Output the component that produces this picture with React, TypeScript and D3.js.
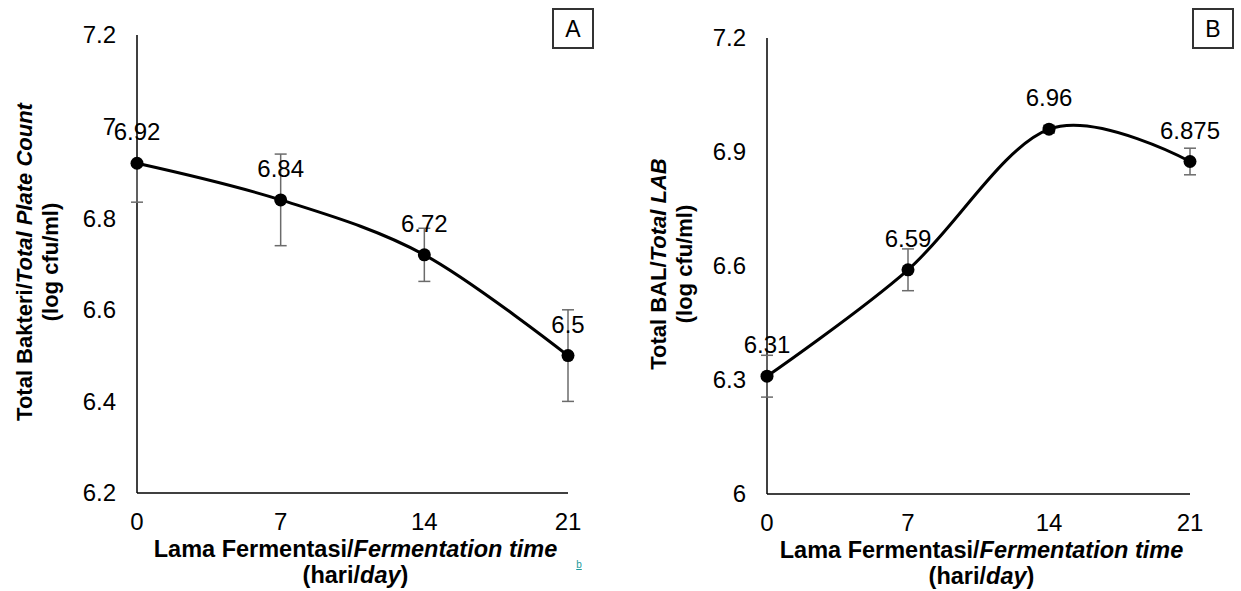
import React from "react";
import * as d3 from "d3";

const days = [0, 7, 14, 21];
const tpcValues = [6.92, 6.84, 6.72, 6.5];
const tpcLabels = ["6.92", "6.84", "6.72", "6.5"];
const tpcErrUp = [0, 0.1, 0.058, 0.1];
const tpcErrDown = [0.085, 0.1, 0.058, 0.1];
const tpcTicks = [6.2, 6.4, 6.6, 6.8, 7, 7.2];

const labValues = [6.31, 6.59, 6.96, 6.875];
const labLabels = ["6.31", "6.59", "6.96", "6.875"];
const labErrUp = [0.055, 0.055, 0.01, 0.035];
const labErrDown = [0.055, 0.055, 0.01, 0.035];
const labTicks = [6, 6.3, 6.6, 6.9, 7.2];

const FONT = "'Liberation Sans', Arial, sans-serif";

type PanelProps = {
  x0: number; x1: number; yTop: number; yBot: number;
  domain: [number, number]; ticks: number[];
  values: number[]; labels: string[]; errUp: number[]; errDown: number[];
  yTitle1: React.ReactNode; yTitleX: number;
  letter: string; boxX: number; chartRight: number;
};

function Panel(p: PanelProps) {
  const x = d3.scaleLinear().domain([0, 21]).range([p.x0, p.x1]);
  const y = d3.scaleLinear().domain(p.domain).range([p.yBot, p.yTop]);
  const pts = days.map((d, i) => [x(d), y(p.values[i])] as [number, number]);
  const line = d3.line().curve(d3.curveCardinal.tension(0))(pts) || "";
  const fs = 24;
  const yMid = (p.yTop + p.yBot) / 2 - 2;
  const xMid = (p.x0 + p.x1) / 2;
  return (
    <g>
      <line x1={p.x0} x2={p.x0} y1={p.yTop} y2={p.yBot} stroke="#000" strokeWidth={1.5} />
      <line x1={p.x0} x2={p.x1} y1={p.yBot} y2={p.yBot} stroke="#000" strokeWidth={1.5} />
      {p.ticks.map((t) => (
        <text key={t} x={p.x0 - 21} y={y(t)} dy="0.35em" textAnchor="end" fontSize={fs} fontFamily={FONT}>
          {d3.format("~g")(t)}
        </text>
      ))}
      {days.map((d) => (
        <text key={d} x={x(d)} y={p.yBot + 37} textAnchor="middle" fontSize={fs} fontFamily={FONT}>
          {d}
        </text>
      ))}
      {days.map((d, i) => {
        const cx = x(d);
        const a = y(p.values[i] + p.errUp[i]);
        const b = y(p.values[i] - p.errDown[i]);
        return (
          <g key={"e" + d} stroke="#6b6b6b" strokeWidth={1.5}>
            <line x1={cx} x2={cx} y1={a} y2={b} />
            {p.errUp[i] > 0 && <line x1={cx - 6} x2={cx + 6} y1={a} y2={a} />}
            {p.errDown[i] > 0 && <line x1={cx - 6} x2={cx + 6} y1={b} y2={b} />}
          </g>
        );
      })}
      <path d={line} fill="none" stroke="#000" strokeWidth={3} />
      {pts.map(([cx, cy], i) => (
        <circle key={"c" + i} cx={cx} cy={cy} r={6.5} fill="#000" />
      ))}
      {pts.map(([cx, cy], i) => {
        const s = p.labels[i];
        const w = ((s.length - 1) * 0.556 + 0.278) * fs;
        const lx = Math.min(cx, p.chartRight - w / 2);
        return (
          <text key={"l" + i} x={lx} y={cy - 23} textAnchor="middle" fontSize={fs} fontFamily={FONT}>
            {s}
          </text>
        );
      })}
      <g transform={`translate(${p.yTitleX},${yMid}) rotate(-90)`}>
        <text x={0} y={0} textAnchor="middle" fontSize={22} fontWeight="bold" fontFamily={FONT}>
          {p.yTitle1}
        </text>
        <text x={0} y={26} textAnchor="middle" fontSize={22} fontWeight="bold" fontFamily={FONT}>
          (log cfu/ml)
        </text>
      </g>
      <text x={xMid + 3} y={p.yBot + 64} textAnchor="middle" fontSize={23.5} fontWeight="bold" fontFamily={FONT}>
        Lama Fermentasi/<tspan fontStyle="italic">Fermentation time</tspan>
      </text>
      <text x={xMid + 3} y={p.yBot + 90} textAnchor="middle" fontSize={23.5} fontWeight="bold" fontFamily={FONT}>
        (hari/<tspan fontStyle="italic">day</tspan>)
      </text>
      <rect x={p.boxX} y={9} width={40} height={39} fill="#fff" stroke="#333" strokeWidth={2} />
      <text x={p.boxX + 20} y={29} dy="0.35em" textAnchor="middle" fontSize={23} fontFamily={FONT}>
        {p.letter}
      </text>
    </g>
  );
}

export default function App() {
  return (
    <svg
      width={1241}
      height={591}
      style={{ position: "absolute", left: 0, top: 0, background: "#fff" }}
    >
      <rect width={1241} height={591} fill="#fff" />
      <Panel
        x0={137} x1={568} yTop={35} yBot={493}
        domain={[6.2, 7.2]} ticks={tpcTicks}
        values={tpcValues} labels={tpcLabels} errUp={tpcErrUp} errDown={tpcErrDown}
        yTitle1={<>Total Bakteri/<tspan fontStyle="italic">Total Plate Count</tspan></>}
        yTitleX={32} letter="A" boxX={553} chartRight={605}
      />
      <Panel
        x0={767} x1={1190} yTop={38} yBot={494}
        domain={[6.0, 7.2]} ticks={labTicks}
        values={labValues} labels={labLabels} errUp={labErrUp} errDown={labErrDown}
        yTitle1={<>Total BAL/<tspan fontStyle="italic">Total LAB</tspan></>}
        yTitleX={666} letter="B" boxX={1193} chartRight={1229}
      />
      <text x={579} y={568} textAnchor="middle" fontSize={10} fill="#1a9a9a" textDecoration="underline" fontFamily={FONT}>
        b
      </text>
    </svg>
  );
}
